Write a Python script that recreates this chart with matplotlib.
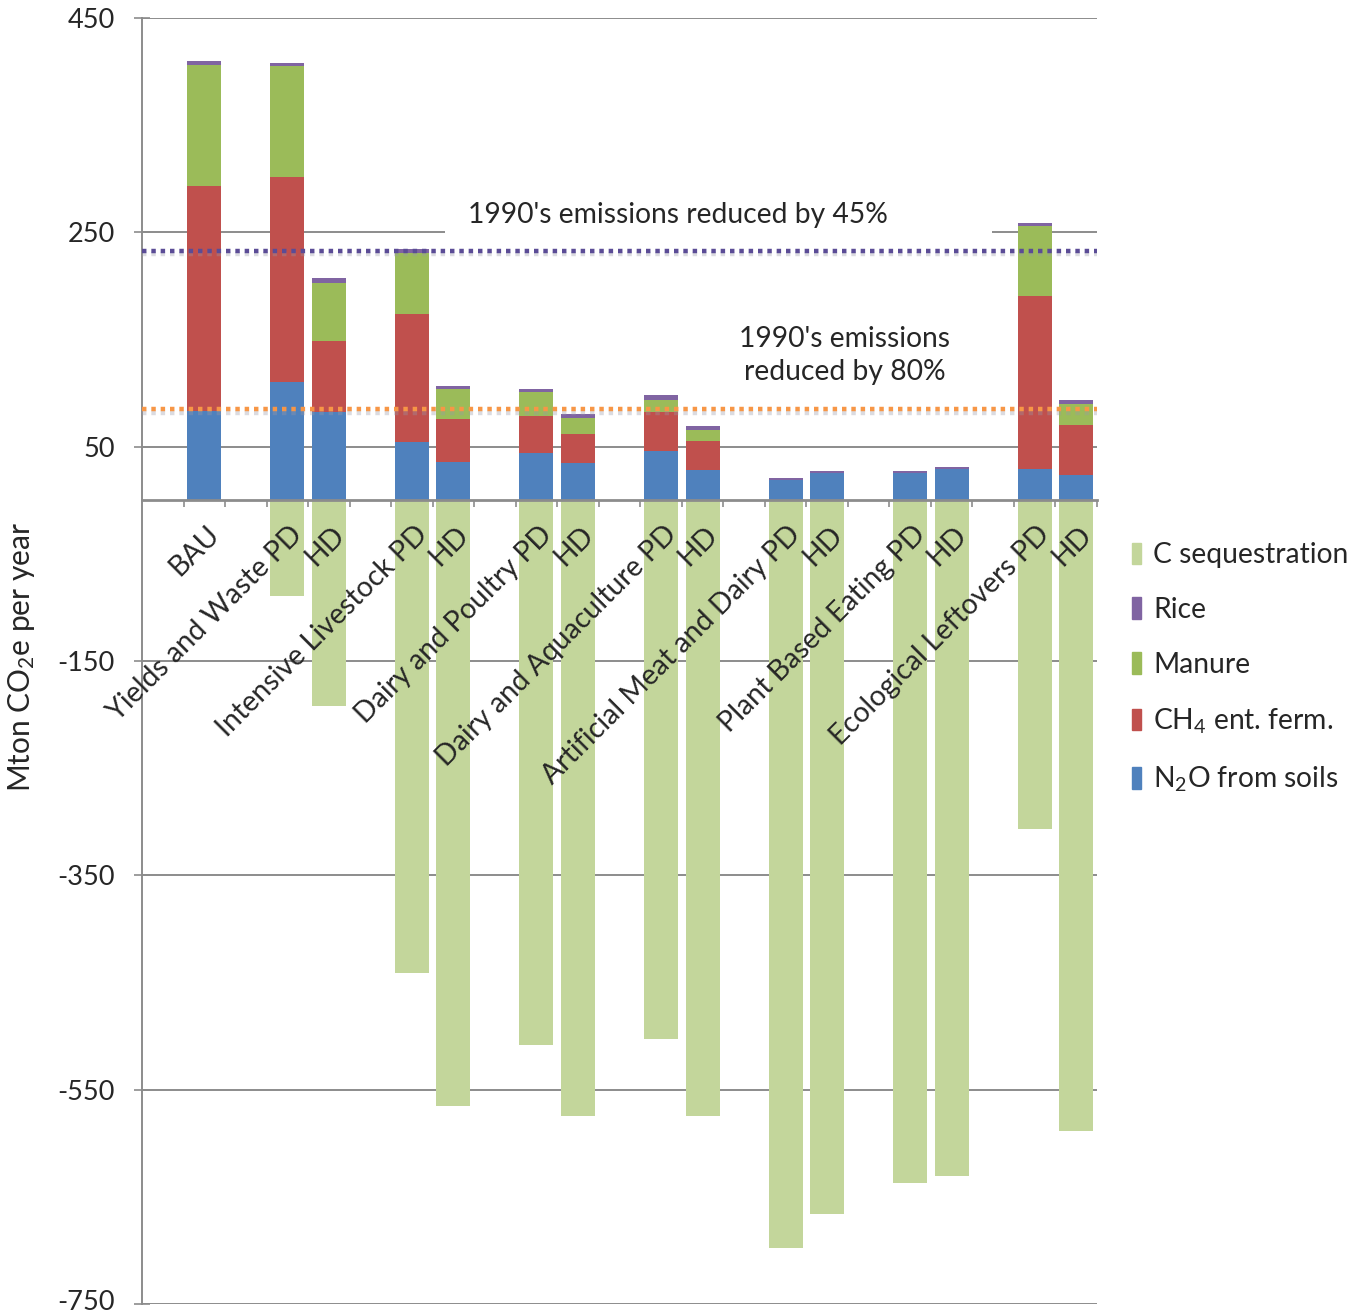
import matplotlib
matplotlib.use("Agg")
import matplotlib.pyplot as plt
import matplotlib.transforms as mtransforms
import matplotlib.patheffects as pe
from matplotlib.patches import Patch, Rectangle
import numpy as np

plt.rcParams['font.family'] = ['Lato', 'DejaVu Sans']
plt.rcParams['mathtext.fontset'] = 'custom'
plt.rcParams['mathtext.rm'] = 'Lato'
plt.rcParams['mathtext.it'] = 'Lato:italic'
plt.rcParams['axes.unicode_minus'] = False
plt.rcParams['font.size'] = 17

# scenario names (each except BAU has a PD and an HD bar)
scenarios = ["BAU", "Yields and Waste", "Intensive Livestock", "Dairy and Poultry",
             "Dairy and Aquaculture", "Artificial Meat and Dairy",
             "Plant Based Eating", "Ecological Leftovers"]

# values per bar, Mton CO2e per year
n2o = [83, 110, 82, 54, 36, 44, 34.5, 46, 28, 19, 25, 25, 29, 29, 24]
ch4 = [210, 192, 67, 120, 40, 35, 27, 36, 27, 0, 0, 0, 0, 162, 46]
manure = [113, 103, 54, 57, 27.5, 22, 15, 12, 11, 0, 0, 0, 0, 65, 20]
rice = [3.5, 3, 4, 3.5, 3.5, 3, 4, 4, 3.5, 2, 2, 2, 2, 2.5, 4]
cseq = [0, -89, -192, -441, -565, -508, -575, -503, -575, -698, -666, -637, -631, -307, -589]

target_45 = 233
target_80 = 85

yticks = [-750, -550, -350, -150, 50, 250, 450]

# build labels / slot positions (one empty slot before each scenario)
labels = []
pos = []
slot = 0
for s in scenarios:
    slot += 1
    if s == "BAU":
        labels.append(s)
        pos.append(slot)
    else:
        labels.append(s + " PD")
        pos.append(slot)
        slot += 1
        labels.append("HD")
        pos.append(slot)
    slot += 1
pos = np.array(pos)

c_blue = '#4F81BD'
c_red = '#C0504D'
c_green = '#9BBB59'
c_purple = '#8064A2'
c_lgreen = '#C3D69B'
txt = '#262626'
gridc = '#8C8C8C'

fig = plt.figure(figsize=(13.53, 13.16), dpi=100)
ax = fig.add_axes([142/1353, 1-1304/1316, 955/1353, 1286/1316])
ax.set_axisbelow(False)

w = 0.82
n2o = np.array(n2o); ch4 = np.array(ch4); manure = np.array(manure); rice = np.array(rice)
ax.bar(pos, n2o, w, color=c_blue, zorder=2)
ax.bar(pos, ch4, w, bottom=n2o, color=c_red, zorder=2)
ax.bar(pos, manure, w, bottom=n2o+ch4, color=c_green, zorder=2)
ax.bar(pos, rice, w, bottom=n2o+ch4+manure, color=c_purple, zorder=2)
ax.bar(pos, cseq, w, color=c_lgreen, zorder=2)

ax.set_xlim(-0.5, slot - 0.5)
ax.set_ylim(-750, 450)
ax.set_yticks(yticks)
# gridlines kept behind the bars
for yv in yticks:
    ax.axhline(yv, color=gridc, lw=1.4, zorder=0.5)

# white box behind the 45% note hides the gridline
ax.add_patch(Rectangle((6.8, 240), 13.17, 50, facecolor='white', edgecolor='none', zorder=1))

shadow = [pe.SimpleLineShadow(offset=(0, -2.5), shadow_color='#9a9aa8', alpha=0.35), pe.Normal()]
ax.axhline(target_45, color='#5B4C96', lw=3.2, ls=(0, (1, 1.1)), zorder=4, path_effects=shadow)
ax.axhline(target_80, color='#F79646', lw=3.2, ls=(0, (1, 1.1)), zorder=4, path_effects=shadow)

ax.text(12.41, 266, "1990's emissions reduced by 45%", ha='center', va='center',
        color=txt, fontsize=20.3, zorder=5)
ax.text(16.43, 135, "1990's emissions\nreduced by 80%", ha='center', va='center',
        color=txt, fontsize=20.3, linespacing=1.3, zorder=5)

for sp in ['top', 'right']:
    ax.spines[sp].set_visible(False)
ax.spines['left'].set_color(gridc)
ax.spines['left'].set_linewidth(1.4)
ax.spines['bottom'].set_position(('data', 0))
ax.spines['bottom'].set_color(gridc)
ax.spines['bottom'].set_linewidth(2)

ax.set_xticks(pos)
ax.set_xticklabels(labels)
ax.set_xticks(np.arange(0.5, slot, 1.0), minor=True)
ax.tick_params(axis='x', which='major', length=0, pad=15, labelsize=20.5, labelcolor=txt)
ax.tick_params(axis='x', which='minor', length=5, width=1.2, color=gridc, direction='out')
ax.tick_params(axis='y', length=11, width=1.2, color=gridc, direction='inout',
               pad=14, labelsize=19.5, labelcolor=txt)
ax.xaxis.set_zorder(6)

offset = mtransforms.ScaledTranslation(2/100, 0, fig.dpi_scale_trans)
for lab in ax.get_xticklabels():
    lab.set_rotation(45)
    lab.set_ha('right')
    lab.set_va('top')
    lab.set_rotation_mode('anchor')
    lab.set_transform(lab.get_transform() + offset)

# lowest y label sits on the figure edge; lift it a touch so it is not clipped
fig.canvas.draw()
bottom_lab = ax.get_yticklabels()[0]
bottom_lab.set_transform(bottom_lab.get_transform() +
                         mtransforms.ScaledTranslation(0, 4/100, fig.dpi_scale_trans))

fig.text(22/1353, 1-657/1316, "Mton CO$_2$e per year", rotation=90, ha='center', va='center',
         color=txt, fontsize=21.5)

handles = [Patch(color=c_lgreen, label='C sequestration'),
           Patch(color=c_purple, label='Rice'),
           Patch(color=c_green, label='Manure'),
           Patch(color=c_red, label='CH$_4$ ent. ferm.'),
           Patch(color=c_blue, label='N$_2$O from soils')]
fig.legend(handles=handles, loc='upper left', bbox_to_anchor=(1118/1353, 1-528/1316),
           frameon=False, fontsize=20.3, handlelength=0.3, handleheight=0.8,
           handletextpad=0.45, labelspacing=1.02, borderpad=0, labelcolor=txt)

fig.savefig('out.png', dpi=100)
